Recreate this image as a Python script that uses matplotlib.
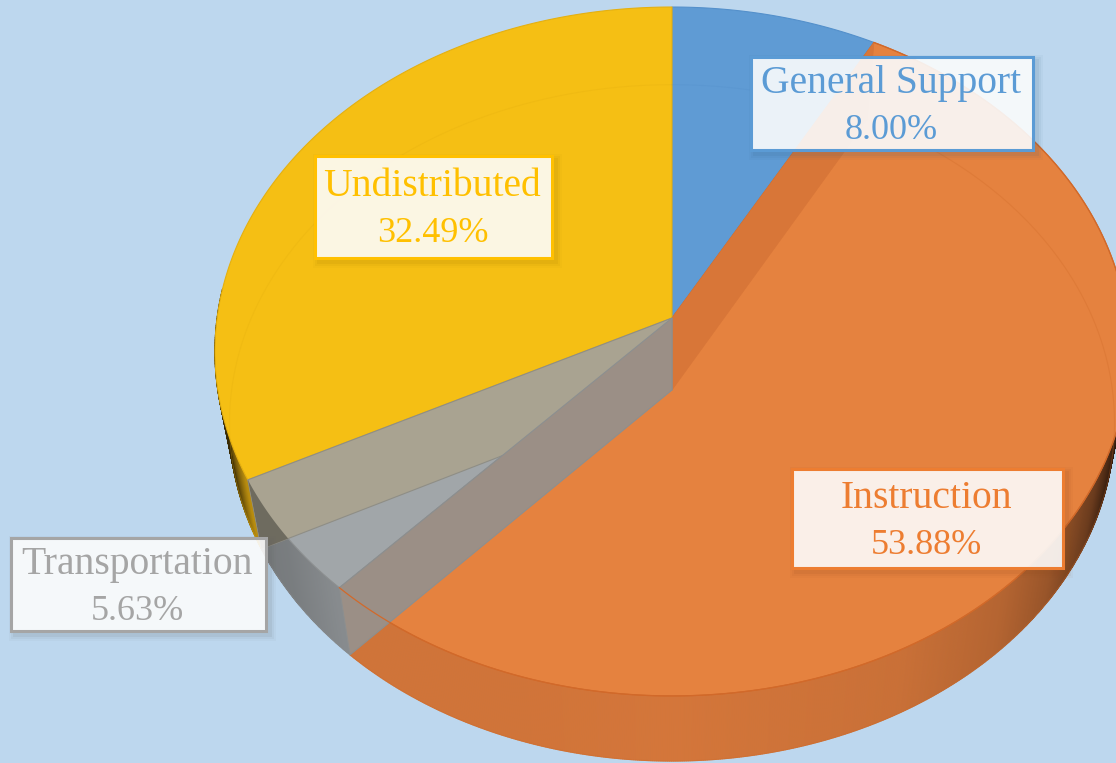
import numpy as np
import matplotlib
matplotlib.use('Agg')
import matplotlib.pyplot as plt
from matplotlib.patches import Polygon, Rectangle

# datos del grafico, en orden horario desde arriba
categorias = ['General Support', 'Instruction', 'Transportation', 'Undistributed']
porcentajes = [8.00, 53.88, 5.63, 32.49]
etiquetas_pct = ['8.00%', '53.88%', '5.63%', '32.49%']

# estilos
color_linea = ['#5B9BD5', '#ED7D31', '#A5A5A5', '#FFC000']
color_cara = ['#5F9BD4', '#E5823F', '#A1A6A9', '#F5BF14']
color_borde = ['#5490CB', '#CF6A28', '#8C8F90', '#E5B010']
color_pared = ['#4F86BA', '#D4763A', '#8A8E91', '#D8A512']

FONDO = '#BDD7EE'
ANCHO, ALTO = 1116, 763

# perspectiva: tapa y base del cilindro
CX = 672
TAPA = dict(y0=318, a=454.9, b=341.2, k=0.0972)
BASE = dict(y0=390, a=440.4, b=335.0, k=0.0972)

# cajas de etiqueta: izq, arriba, der, abajo
cajas = [(751, 57, 1033, 150), (792, 469, 1063, 568), (11, 538, 266, 631), (315, 156, 552, 258)]


def proyectar(ang, disco):
    # ang en grados, horario desde arriba
    t = np.radians(ang)
    x, y = np.sin(t), np.cos(t)
    d = 1 + disco['k'] * y
    return CX + disco['a'] * x / d, disco['y0'] - disco['b'] * y / d


def sector(a0, a1, disco):
    ang = np.linspace(a0, a1, 200)
    xs, ys = proyectar(ang, disco)
    return np.r_[CX, xs], np.r_[disco['y0'], ys]


def mezclar(color, f):
    rgb = np.array(matplotlib.colors.to_rgb(color))
    return tuple(rgb * f)


fig = plt.figure(figsize=(ANCHO / 100, ALTO / 100), dpi=100, facecolor=FONDO)
ax = fig.add_axes([0, 0, 1, 1])
ax.set_xlim(0, ANCHO)
ax.set_ylim(ALTO, 0)
ax.axis('off')

limites = np.r_[0, np.cumsum(porcentajes)] * 3.6

# pared exterior, con degradado segun x
x_sombra = [225, 238, 250, 290, 340, 500, 672, 900, 1000, 1050, 1090, 1116]
f_sombra = [0.25, 0.55, 0.85, 0.88, 0.98, 0.98, 1.0, 0.95, 0.85, 0.72, 0.5, 0.2]
for i in range(4):
    a0, a1 = limites[i], limites[i + 1]
    pasos = np.arange(a0, a1 + 0.25, 0.25)
    for p0, p1 in zip(pasos[:-1], pasos[1:]):
        if 95 > p0 or p0 > 275:
            continue
        x0, y0 = proyectar(p0, TAPA)
        x1, y1 = proyectar(p1, TAPA)
        x2, y2 = proyectar(p1, BASE)
        x3, y3 = proyectar(p0, BASE)
        c = mezclar(color_pared[i], np.interp((x0 + x3) / 2, x_sombra, f_sombra))
        ax.fill([x0, x1, x2, x3], [y0, y1, y2, y3], color=c, lw=0.8, zorder=2)

# tapas
caras = []
for i in range(4):
    xs, ys = sector(limites[i], limites[i + 1], TAPA)
    cara = Polygon(np.c_[xs, ys], closed=True, facecolor=color_cara[i],
                   edgecolor=color_borde[i], lw=0.8, zorder=3)
    ax.add_patch(cara)
    caras.append(cara)

# borde de la base visto a traves de la tapa
for i in range(4):
    ang = np.linspace(limites[i], limites[i + 1], 200)
    xs, ys = proyectar(ang, BASE)
    ax.plot(xs, ys, color=color_borde[i], lw=0.8, alpha=0.3, zorder=4)


def pared_radial(ang):
    x_t, y_t = proyectar(ang, TAPA)
    x_b, y_b = proyectar(ang, BASE)
    return np.array([[CX, TAPA['y0']], [x_t, y_t], [x_b, y_b], [CX, BASE['y0']]])


# paredes interiores de los cortes
ax.add_patch(Polygon(pared_radial(limites[1]), closed=True, facecolor='#D87638',
                     edgecolor='#D87638', lw=0.5, zorder=5))
ax.add_patch(Polygon(pared_radial(limites[3]), closed=True, facecolor='#A9A391',
                     edgecolor='#8F8E86', lw=0.8, zorder=5))
# la parte de la pared amarilla que cae sobre el lateral gris
xs_g, ys_g = proyectar(np.linspace(limites[2], limites[3], 60), TAPA)
xs_h, ys_h = proyectar(np.linspace(limites[3], limites[2], 60), BASE)
lateral_gris = Polygon(np.c_[np.r_[xs_g, xs_h], np.r_[ys_g, ys_h]], closed=True,
                       facecolor='none', edgecolor='none', zorder=5)
ax.add_patch(lateral_gris)
oscura = Polygon(pared_radial(limites[3]), closed=True, facecolor='#6E6B5F',
                 edgecolor='none', zorder=5.5)
ax.add_patch(oscura)
oscura.set_clip_path(lateral_gris)
ax.add_patch(Polygon(pared_radial(limites[2]), closed=True, facecolor='#9B8F86',
                     edgecolor='#8C8F90', lw=0.8, zorder=6))

# linea del borde de la tapa que cruza la pared marron
ang = np.linspace(limites[1], limites[2], 200)[::-1]
xs, ys = proyectar(ang, TAPA)
ax.plot(xs, ys, color='#D2692A', lw=0.9, zorder=7)

# etiquetas
for i, (izq, arr, der, aba) in enumerate(cajas):
    for d, al in [(6, 0.04), (4, 0.06), (2, 0.09)]:
        ax.add_patch(Rectangle((izq - d + 4, arr - d + 4), der - izq + 2 * d, aba - arr + 2 * d,
                               facecolor=mezclar(color_linea[i], 0.6), edgecolor='none',
                               alpha=al, zorder=8))
    ax.add_patch(Rectangle((izq, arr), der - izq, aba - arr, facecolor='white', alpha=0.89,
                           edgecolor='none', zorder=9))
    ax.add_patch(Rectangle((izq, arr), der - izq, aba - arr, facecolor='none',
                           edgecolor=color_linea[i], lw=2.2, zorder=10))
    xc = (izq + der) / 2
    ym = (arr + aba) / 2
    ax.text(xc - 1, ym - 20, categorias[i], color=color_linea[i], fontsize=28.5,
            family='Liberation Serif', ha='center', va='center', zorder=11)
    ax.text(xc - 1, ym + 27, etiquetas_pct[i], color=color_linea[i], fontsize=26,
            family='Liberation Serif', ha='center', va='center', zorder=11)

fig.savefig('out.png', dpi=100, facecolor=FONDO)
